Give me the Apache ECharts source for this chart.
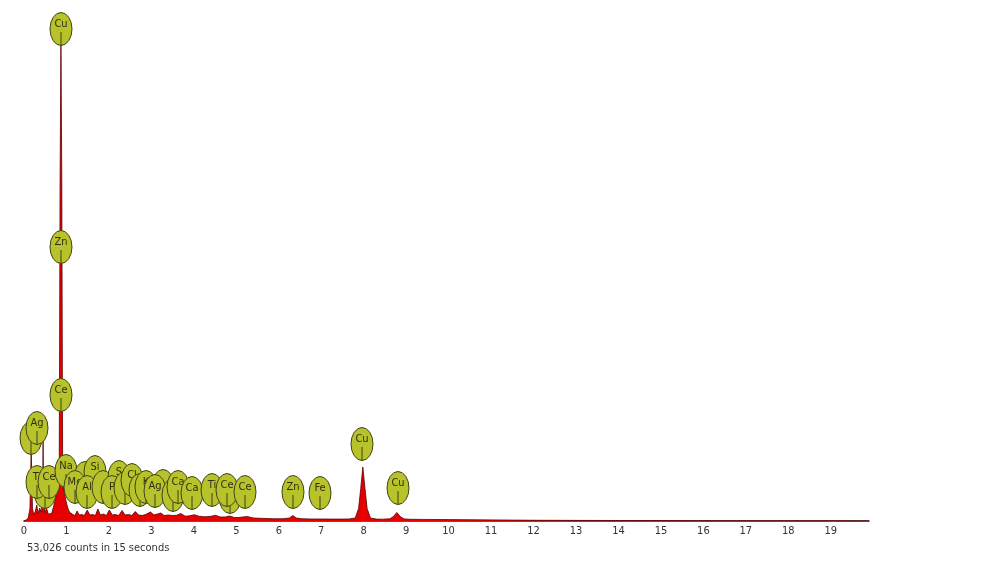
<!DOCTYPE html>
<html><head><meta charset="utf-8">
<script src="https://cdn.jsdelivr.net/npm/echarts@6/dist/echarts.min.js"></script>
<style>html,body{margin:0;padding:0;background:#fff}#c{width:1000px;height:563px}</style>
</head><body><div id="c"></div>
<script>
// Spectrum: energy (keV) and counts
const energy = [0.00,0.05,0.10,0.14,0.17,0.20,0.23,0.27,0.30,0.33,0.37,0.41,0.44,0.45,0.46,0.49,0.53,0.57,0.61,0.65,0.70,0.75,0.80,0.83,0.85,0.87,0.89,0.91,0.95,0.99,1.03,1.07,1.11,
1.15,1.20,1.25,1.30,1.36,1.42,1.49,1.55,1.62,1.68,1.74,1.80,1.87,1.94,2.01,2.08,2.15,2.23,2.31,2.38,2.46,2.54,2.62,2.70,2.78,2.86,2.98,3.06,3.14,3.22,3.30,3.40,3.50,3.60,3.69,3.80,3.90,4.01,4.12,4.25,4.38,4.51,4.62,4.74,4.84,4.95,5.05,5.26,5.40,5.55,5.70,5.90,6.10,6.25,6.33,6.41,6.55,6.75,6.90,7.05,7.25,7.45,7.65,7.80,7.88,7.93,7.98,8.03,8.08,8.16,8.30,8.45,8.62,8.70,8.78,8.86,8.95,9.10,9.40,9.70,10.0,10.5,11.0,11.5,12.0,13.0,14.0,15.0,16.0,17.0,18.0,19.0,19.9];
const counts = [0,20,60,250,1450,250,120,200,320,150,260,180,400,1650,400,160,260,140,100,150,300,480,620,1100,6800,9620,6800,1000,560,400,260,180,140,
130,110,200,120,130,110,220,120,130,110,240,120,140,110,220,120,130,110,210,120,130,110,190,120,110,130,180,120,140,160,110,120,110,115,150,95,105,125,95,85,90,115,80,80,100,70,70,90,60,55,50,45,45,60,110,60,45,40,40,40,38,38,40,60,250,650,1080,650,250,60,38,36,45,90,170,90,42,34,32,30,28,25,22,18,15,12,10,8,6,5,4,3,2];

// Element marker bubbles: name, energy (keV), height (counts)
const markNames = ["", "Ag", "", "Ti", "Ce", "Ce", "Zn", "Cu", "Na", "", "Si", "Mg", "Al", "", "S", "P", "", "Cl", "", "K", "", "Ag", "", "Ca", "Ca", "Ti", "", "Ce", "Ce", "Zn", "Fe", "Cu", "Cu"];
const markEnergy = [0.165,0.306,0.495,0.306,0.589,0.871,0.871,0.871,0.989,1.437,1.672,1.201,1.484,1.861,2.237,2.073,2.379,2.544,2.732,2.873,3.274,3.085,3.509,3.627,3.957,4.428,4.852,4.781,5.205,6.335,6.971,7.960,8.808];
const markHeight = [1660,1860,580,780,780,2520,5480,9840,1000,860,980,680,580,680,880,580,660,820,620,680,700,600,520,680,560,620,480,620,580,580,560,1540,660];

const xTicks = [0,1,2,3,4,5,6,7,8,9,10,11,12,13,14,15,16,17,18,19];
const footer = "53,026 counts in 15 seconds";

const chart = echarts.init(document.getElementById('c'), null, {renderer:'canvas'});
const spec = energy.map((e,i)=>[e,counts[i]]);
const marks = markEnergy.map((e,i)=>[e,markHeight[i]]);
const fontNarrow = '"Liberation Sans Narrow","DejaVu Sans Condensed",sans-serif';

chart.setOption({
  animation:false,
  backgroundColor:'#fff',
  title:{text:footer,left:22,top:538,textStyle:{fontSize:11,fontWeight:'normal',color:'#333',fontFamily:fontNarrow}},
  grid:{left:24,right:131,top:21,bottom:42},
  xAxis:{type:'value',min:0,max:19.9,interval:1,
    axisLine:{lineStyle:{color:'#222',width:1.5}},
    axisTick:{show:false},splitLine:{show:false},
    axisLabel:{color:'#333',fontSize:11,fontFamily:fontNarrow,margin:5,showMaxLabel:false,
      formatter:v=>xTicks.includes(v)?String(v):''}},
  yAxis:{type:'value',min:0,max:10000,show:false,splitLine:{show:false}},
  series:[
    {type:'line',data:spec,showSymbol:false,symbol:'none',
     lineStyle:{color:'#5a0000',width:0.8},
     areaStyle:{color:'#e60000',opacity:1},z:2},
    {type:'custom',data:marks,z:5,clip:false,
     renderItem:function(params,api){
       const p=api.coord([api.value(0),api.value(1)]);
       const name=markNames[params.dataIndex];
       return {type:'group',x:p[0],y:p[1],children:[
         {type:'path',shape:{pathData:'M0,-16.5A11,16.5 0 1,1 0,16.5A11,16.5 0 1,1 0,-16.5Z',x:-11,y:-16.5,width:22,height:33,layout:'cover'},
          style:{fill:'#b8c22a',stroke:'#3e4516',lineWidth:1}},
         {type:'line',shape:{x1:0,y1:3,x2:0,y2:16.5},style:{stroke:'#3e4516',lineWidth:1}},
         {type:'text',style:{text:name,x:0,y:-5,align:'center',verticalAlign:'middle',fill:'#2f2f10',font:'11px '+fontNarrow}}
       ]};
     }}
  ]
});
</script></body></html>
